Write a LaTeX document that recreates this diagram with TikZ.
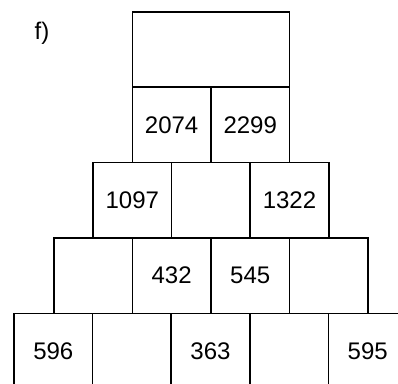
\documentclass[tikz,border=0pt]{standalone}
\usepackage{fontspec}
\setmainfont{Liberation Sans}
\begin{document}
\begin{tikzpicture}[x=1pt,y=-1pt,
  cell/.style={draw=black, line width=1.6pt, minimum width=78.6pt, minimum height=75.6pt, inner sep=0pt, font=\fontsize{24}{28}\selectfont},
  lbl/.style={font=\fontsize{24}{28}\selectfont, inner sep=0pt}]
\useasboundingbox (0,0) rectangle (398,383);
\clip (0,0) rectangle (398,383);
\fill[white] (0,0) rectangle (398,383);
\node[lbl] (f) at (42,33) {f)};
% top
\node[cell, minimum width=157.2pt] (t) at (211,49.5) {};
% row 2
\node[cell] (r2a) at (171.6,124.8) {2074};
\node[cell] (r2b) at (250.2,124.8) {2299};
% row 3
\node[cell] (r3a) at (132.3,200.1) {1097};
\node[cell] (r3b) at (210.9,200.1) {};
\node[cell] (r3c) at (289.5,200.1) {1322};
% row 4
\node[cell] (r4a) at (93.0,275.5) {};
\node[cell] (r4b) at (171.6,275.5) {432};
\node[cell] (r4c) at (250.2,275.5) {545};
\node[cell] (r4d) at (328.8,275.5) {};
% row 5
\node[cell] (r5a) at (53.3,351.1) {596};
\node[cell] (r5b) at (131.9,351.1) {};
\node[cell] (r5c) at (210.5,351.1) {363};
\node[cell] (r5d) at (289.1,351.1) {};
\node[cell] (r5e) at (367.7,351.1) {595};
\end{tikzpicture}
\end{document}
